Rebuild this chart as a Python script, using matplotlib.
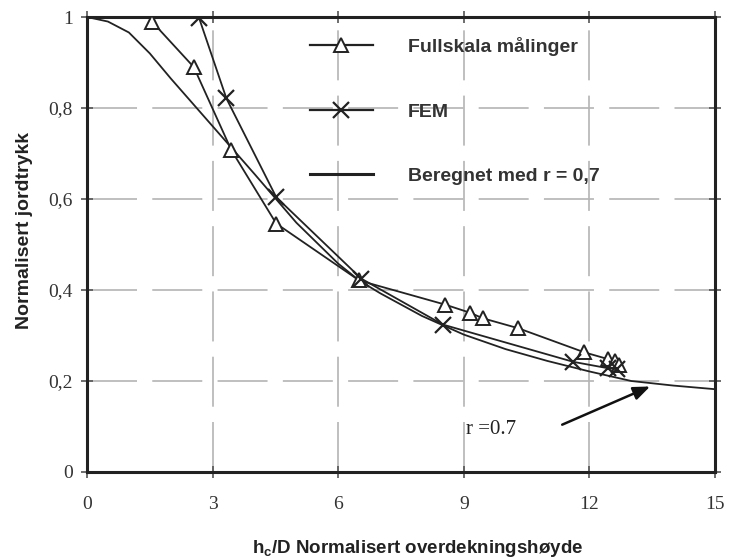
import matplotlib
matplotlib.use("Agg")
import matplotlib.pyplot as plt
from matplotlib.lines import Line2D

# ---- data ----
x_full = [1.55, 2.55, 3.45, 4.52, 6.5, 8.55, 9.15, 9.45, 10.3, 11.88, 12.45, 12.6, 12.7]
y_full = [0.99, 0.89, 0.707, 0.546, 0.421, 0.368, 0.35, 0.338, 0.316, 0.263, 0.248, 0.245, 0.236]

x_fem = [2.68, 3.33, 4.52, 6.55, 8.5, 11.62, 12.45, 12.65]
y_fem = [0.997, 0.821, 0.604, 0.425, 0.324, 0.242, 0.228, 0.226]

x_calc = [0, 0.5, 1, 1.5, 2, 3, 4, 5, 6, 6.5, 7, 8, 9, 10, 11, 12, 13, 14, 15]
y_calc = [1.0, 0.99, 0.966, 0.92, 0.865, 0.76, 0.655, 0.548, 0.458, 0.421, 0.393, 0.343, 0.302, 0.27, 0.244, 0.221, 0.2, 0.19, 0.182]

x_ticks = [0, 3, 6, 9, 12, 15]
y_ticks = [0, 0.2, 0.4, 0.6, 0.8, 1]
y_ticklabels = ["0", "0,2", "0,4", "0,6", "0,8", "1"]

labels = ["Fullskala målinger", "FEM", "Beregnet med r = 0,7"]

plt.rcParams['lines.scale_dashes'] = False
fig = plt.figure(figsize=(7.29, 5.58), dpi=100)
ax = fig.add_axes([87/729, 1-472/558, (715-87)/729, (472-17)/558])

grid_kw = dict(color="#b4b4b4", lw=1.2, linestyle=(0, (36, 11)), zorder=0)
for xv in x_ticks[1:-1]:
    ax.axvline(xv, **grid_kw)
for yv in y_ticks[1:-1]:
    ax.axhline(yv, **grid_kw)

ax.plot(x_calc, y_calc, color="#222222", lw=1.3, zorder=2)
ax.plot(x_full, y_full, color="#222222", lw=1.3, marker="^", ms=10, mfc="white",
        mec="#222222", mew=1.4, zorder=3)
ax.plot(x_fem, y_fem, color="#222222", lw=1.3, marker="x", ms=11, mew=1.6, zorder=3)

ax.set_xlim(0, 15)
ax.set_ylim(0, 1)
ax.set_xticks(x_ticks)
ax.set_xticklabels([str(v) for v in x_ticks])
ax.set_yticks(y_ticks)
ax.set_yticklabels(y_ticklabels)

serif = ["Liberation Serif", "DejaVu Serif"]
for lab in ax.get_xticklabels() + ax.get_yticklabels():
    lab.set_fontfamily(serif)
    lab.set_fontsize(14)
    lab.set_color("#333333")

ax.tick_params(axis="both", which="both", direction="inout", length=8, width=1.2,
               color="#555555", top=True, right=True)
ax.tick_params(axis="x", pad=13)
ax.tick_params(axis="y", pad=6)
for s in ax.spines.values():
    s.set_linewidth(2.2)
    s.set_color("#222222")

sans = ["Liberation Sans", "DejaVu Sans"]
ax.set_xlabel("h$_\\mathregular{c}$/D Normalisert overdekningshøyde", fontfamily=sans,
              fontweight="bold", fontsize=13.5, color="#222222", va="center")
ax.set_ylabel("Normalisert jordtrykk", fontfamily=sans, fontweight="bold",
              fontsize=14, color="#222222", va="center")
ax.xaxis.set_label_coords(0.526, -0.168)
ax.yaxis.set_label_coords(-0.1, 0.53)

handles = [
    Line2D([], [], color="#222222", lw=1.6, marker="^", ms=10, mfc="white", mec="#222222", mew=1.4),
    Line2D([], [], color="#222222", lw=1.6, marker="x", ms=11, mew=1.6),
    Line2D([], [], color="#222222", lw=2.2),
]
leg = ax.legend(handles, labels, loc="upper left", bbox_to_anchor=(0.327, 0.994),
                frameon=False, handlelength=3.25, handletextpad=1.8, labelspacing=2.4,
                prop=dict(family=sans, weight="bold", size=14))
for t in leg.get_texts():
    t.set_color("#333333")

ax.annotate("", xy=(13.45, 0.188), xytext=(11.35, 0.104),
            arrowprops=dict(arrowstyle="-|>,head_length=1.0,head_width=0.4",
                            color="#111111", lw=1.8, shrinkA=0, shrinkB=0))
ax.text(9.65, 0.094, "r =0.7", fontfamily=serif, fontsize=15, ha="center", va="center",
        color="#222222")

fig.savefig("out.png", dpi=100)
